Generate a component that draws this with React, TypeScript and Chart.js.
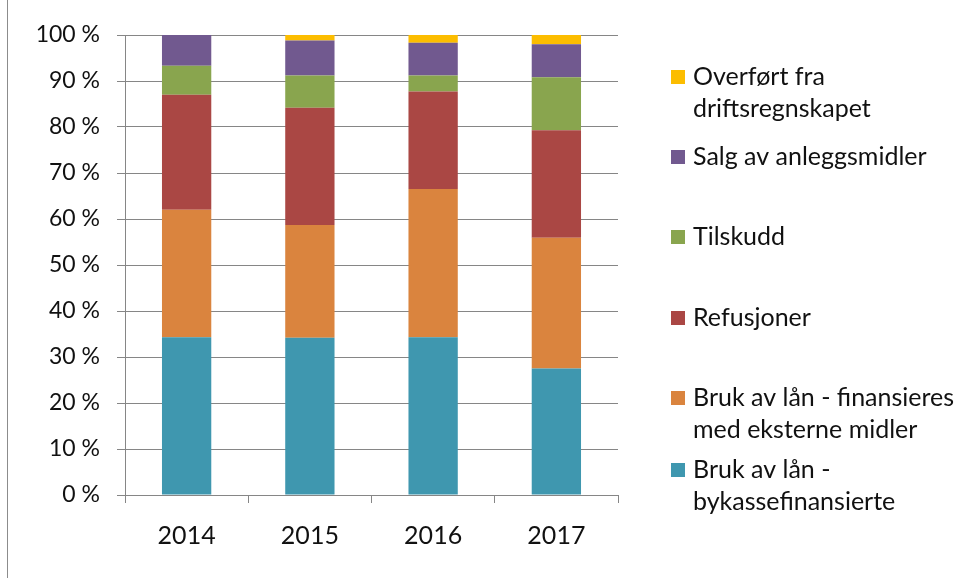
import React, { useEffect, useRef } from "react";
import { Chart, registerables } from "chart.js";

Chart.register(...registerables);

const years = ["2014", "2015", "2016", "2017"];
const bykasse = [34.3, 34.2, 34.3, 27.5];
const eksterne = [27.7, 24.5, 32.2, 28.4];
const refusjoner = [25.0, 25.5, 21.2, 23.4];
const tilskudd = [6.3, 7.0, 3.5, 11.5];
const salg = [6.7, 7.6, 7.1, 7.2];
const overfort = [0.0, 1.2, 1.7, 2.0];

const seriesNames = [
  "Bruk av lån - bykassefinansierte",
  "Bruk av lån - finansieres med eksterne midler",
  "Refusjoner",
  "Tilskudd",
  "Salg av anleggsmidler",
  "Overført fra driftsregnskapet",
];
const legendLines = [
  ["Bruk av lån -", "bykassefinansierte"],
  ["Bruk av lån - finansieres", "med eksterne midler"],
  ["Refusjoner"],
  ["Tilskudd"],
  ["Salg av anleggsmidler"],
  ["Overført fra", "driftsregnskapet"],
];
const colors = ["#3F97AF", "#DA843E", "#AA4744", "#89A54E", "#71598F", "#FCBD00"];
const yTicks = [0, 10, 20, 30, 40, 50, 60, 70, 80, 90, 100];

const FONT = "Lato, 'Open Sans', sans-serif";

const legendPlugin = {
  id: "customLegend",
  afterDraw(chart: any) {
    const ctx = chart.ctx;
    ctx.save();
    // outer frame line
    ctx.strokeStyle = "#8c8c8c";
    ctx.lineWidth = 1;
    ctx.beginPath();
    ctx.moveTo(7.5, 0);
    ctx.lineTo(7.5, chart.height);
    ctx.stroke();

    const firstLineY = [470, 398, 318, 237, 157, 77];
    ctx.font = `25px ${FONT}`;
    ctx.textBaseline = "middle";
    ctx.textAlign = "left";
    chart.data.datasets.forEach((ds: any, i: number) => {
      const y0 = firstLineY[i];
      ctx.fillStyle = ds.backgroundColor;
      ctx.fillRect(671, y0 - 7, 14, 14);
      ctx.fillStyle = "#111";
      legendLines[i].forEach((line, j) => {
        ctx.fillText(line, 693, y0 + j * 32);
      });
    });
    ctx.restore();
  },
};

export default function App() {
  const ref = useRef<HTMLCanvasElement | null>(null);
  useEffect(() => {
    if (!ref.current) return;
    const series = [bykasse, eksterne, refusjoner, tilskudd, salg, overfort];
    const chart = new Chart(ref.current, {
      type: "bar",
      data: {
        labels: years,
        datasets: series.map((d, i) => ({
          label: seriesNames[i],
          data: d,
          backgroundColor: colors[i],
          borderWidth: 0,
          categoryPercentage: 1,
          barPercentage: 0.4,
        })),
      },
      options: {
        animation: false,
        responsive: false,
        maintainAspectRatio: false,
        layout: { padding: { left: 0, right: 337, top: 35, bottom: 0 } },
        plugins: {
          legend: { display: false },
          tooltip: { enabled: false },
        },
        scales: {
          x: {
            stacked: true,
            offset: true,
            grid: {
              offset: true,
              drawOnChartArea: false,
              drawTicks: true,
              tickLength: 8,
              color: "#868686",
            },
            border: { display: true, color: "#868686" },
            ticks: {
              color: "#111",
              font: { family: FONT, size: 25 },
              padding: 18,
            },
            afterFit(scale: any) {
              scale.height = 83;
            },
          },
          y: {
            stacked: true,
            min: 0,
            max: 100,
            afterBuildTicks(scale: any) {
              scale.ticks = yTicks.map((v) => ({ value: v }));
            },
            grid: {
              color: "#868686",
              tickLength: 8,
              drawTicks: true,
            },
            border: { display: true, color: "#868686" },
            ticks: {
              color: "#111",
              font: { family: FONT, size: 23 },
              padding: 17,
              callback: (v: any) => `${v} %`,
            },
            afterFit(scale: any) {
              scale.width = 125;
            },
          },
        },
      },
      plugins: [legendPlugin],
    });
    return () => chart.destroy();
  }, []);
  return (
    <div style={{ position: "fixed", left: 0, top: 0, width: 955, height: 578, background: "#fff" }}>
      <canvas ref={ref} width={955} height={578} style={{ display: "block" }} />
    </div>
  );
}
